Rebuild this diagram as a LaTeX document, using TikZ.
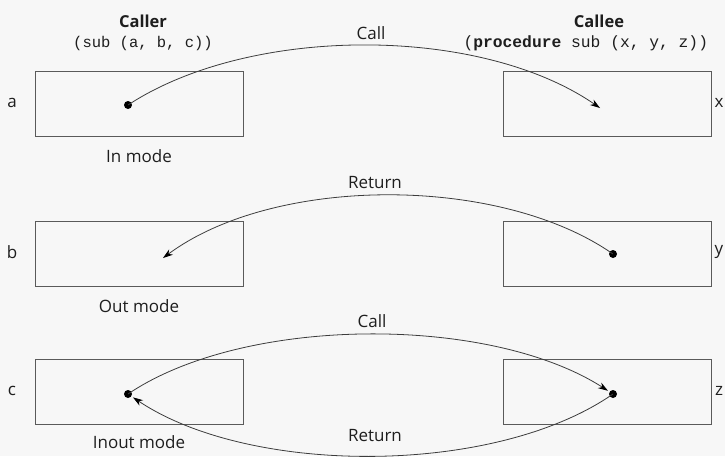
\documentclass[tikz,border=0pt]{standalone}
\usepackage{fontspec}
\setmainfont{Open Sans}
\setmonofont{Liberation Mono}
\usepackage{tikz}
\usetikzlibrary{arrows.meta,positioning}
\definecolor{bgpaper}{RGB}{247,247,247}
\definecolor{edgegray}{RGB}{90,90,90}
\definecolor{linegray}{RGB}{60,60,60}
\definecolor{txtgray}{RGB}{30,30,30}

\begin{document}
\begin{tikzpicture}[x=1pt, y=-1pt,
  parm/.style={rectangle, draw=edgegray, line width=0.9pt, minimum width=208pt, minimum height=65pt, anchor=north west, inner sep=0pt},
  dot/.style={circle, fill=black, inner sep=0pt, minimum size=8pt},
  lbl/.style={font=\fontsize{17}{19}\selectfont, text=txtgray},
  head/.style={font=\fontsize{16.5}{19}\selectfont\bfseries, text=txtgray},
  code/.style={font=\fontsize{15.5}{18}\ttfamily, text=txtgray},
  flow/.style={-{Stealth[length=10pt,width=6.5pt,color=black]}, line width=0.8pt, draw=linegray}
]
  \fill[bgpaper] (0,0) rectangle (725,456);
  \useasboundingbox (0,0) rectangle (725,456);

  \node[head] (callerhd) at (143,21) {Caller};
  \node[code] (callersig) at (143,43) {(sub (a, b, c))};
  \node[head] (calleehd) at (599,21) {Callee};
  \node[code, anchor=west, font=\fontsize{16.3}{18}\ttfamily] (calleesig) at (460,43) {(\textbf{procedure} sub (x, y, z))};

  \node[parm] (boxa) at (35,71) {};
  \node[parm] (boxx) at (503,71) {};
  \node[parm] (boxb) at (35,221) {};
  \node[parm] (boxy) at (503,221) {};
  \node[parm] (boxc) at (35,359) {};
  \node[parm] (boxz) at (503,359) {};

  \node[lbl] (lbla) at (12,103) {a};
  \node[lbl] (lblb) at (12,252) {b};
  \node[lbl] (lblc) at (12,391) {c};
  \node[lbl] (lblx) at (719,103) {x};
  \node[lbl] (lbly) at (719,252) {y};
  \node[lbl] (lblz) at (719,391) {z};

  \node[lbl] (inmode) at (139,156) {In mode};
  \node[lbl] (outmode) at (139,306) {Out mode};
  \node[lbl] (inoutmode) at (139,442) {Inout mode};

  \node[dot] (dota) at (128,105) {};
  \coordinate (tipx) at (600,108);
  \node[dot] (doty) at (613,254) {};
  \coordinate (tipb) at (163,258);
  \node[dot] (dotc) at (128,394) {};
  \node[dot] (dotz) at (613,394) {};

  \draw[flow] (dota.center) .. controls (250,25) and (480,25) .. (tipx);
  \node[lbl] (call1) at (371,33) {Call};

  \draw[flow] (doty.center) .. controls (500,175) and (275,175) .. (tipb);
  \node[lbl] (ret1) at (375,183) {Return};

  \draw[flow, shorten >=6pt] (dotc.center) .. controls (245,315) and (490,315) .. (dotz.center);
  \node[lbl] (call2) at (372,321) {Call};

  \draw[flow, shorten >=6pt] (dotz.center) .. controls (495,476) and (250,476) .. (dotc.center);
  \node[lbl] (ret2) at (375,436) {Return};
\end{tikzpicture}
\end{document}
